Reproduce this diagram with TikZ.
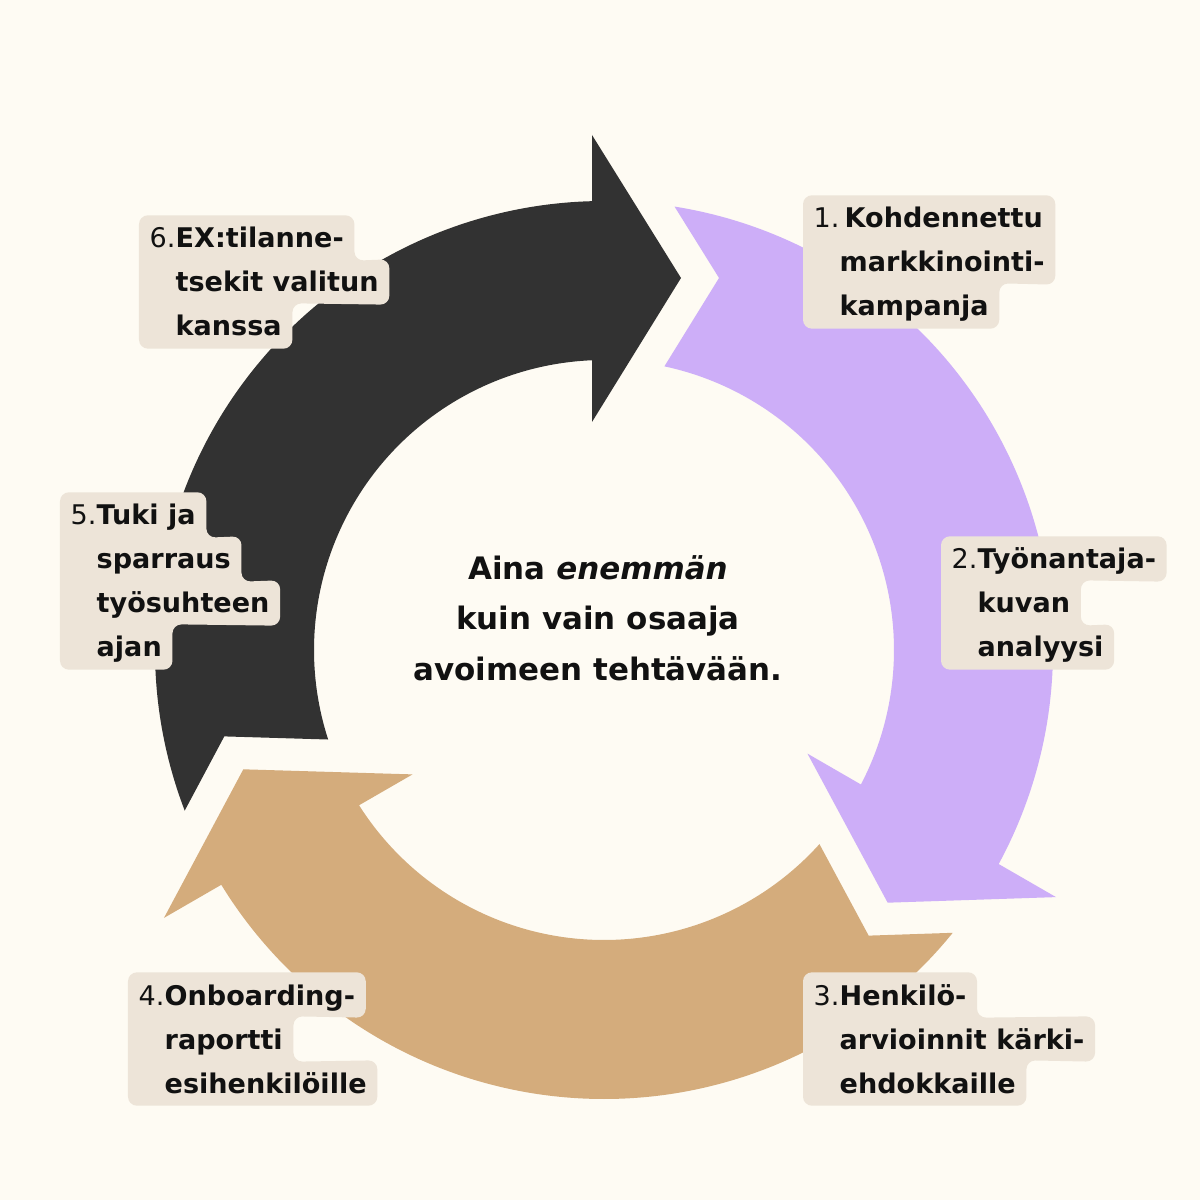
\documentclass[tikz,border=0pt]{standalone}
\usepackage{fontspec}
\setmainfont{DejaVu Sans}[ItalicFont={DejaVu Sans Oblique},BoldItalicFont={DejaVu Sans Bold Oblique}]
\usepackage{tikz}
\usetikzlibrary{positioning}
\definecolor{paper}{HTML}{FEFBF3}
\definecolor{boxbg}{HTML}{EDE4D8}
\definecolor{coal}{HTML}{323232}
\definecolor{lilac}{HTML}{CDAEF8}
\definecolor{sand}{HTML}{D4AC7C}
\definecolor{ink}{HTML}{111111}
\newcommand{\lblnum}[1]{\makebox[2.6mm][l]{\mdseries #1}}
\newcommand{\lblgap}{\hspace*{2.6mm}}
\pgfdeclarelayer{back}
\pgfdeclarelayer{mid}
\pgfsetlayers{back,mid,main}

\begin{document}
\begin{tikzpicture}[x=0.1mm,y=0.1mm,
  lbl/.style={anchor=west,inner xsep=1mm,inner ysep=0pt,
    minimum height=4.4mm,text height=2mm,text depth=0pt,text=ink,
    font=\fontsize{7.7pt}{12.5pt}\selectfont\bfseries},
  lblbox/.style={fill=boxbg,rounded corners=0.9mm}]
  \begin{pgfonlayer}{back}
  % canvas, origin at the ring centre
  \fill[paper] (-604,-550) rectangle (596,650);
  % ring arrows: one shape, turned by 120 degrees
  \foreach \ang/\col in {0/coal,-120/lilac,120/sand}{
    \begin{scope}[rotate=\ang]
      \fill[\col] (200.96:449) arc[start angle=200.96,end angle=91.53,radius=449]
        -- (-12,515) -- (77,372) -- (-12,228) -- (92.37:290)
        arc[start angle=92.37,end angle=197.98,radius=290]
        -- (-379.7,-86.4) -- cycle;
    \end{scope}
  }
  \end{pgfonlayer}
  % centre text
  \node[align=center,text=ink,font=\fontsize{8.8pt}{14.4pt}\selectfont\bfseries] (motto) at (-6,32)
    {Aina \textit{enemmän}\\ kuin vain osaaja\\ avoimeen tehtävään.};
  % step labels, one node per line
  \node[lbl] (l1a) at (199,432) {\lblnum{1.}\hspace{0.5mm}Kohdennettu};
  \node[lbl] (l1b) at (199,388) {\lblgap markkinointi-};
  \node[lbl] (l1c) at (199,344) {\lblgap kampanja};
  \node[lbl] (l2a) at (337,91) {\lblnum{2.}Työnantaja-};
  \node[lbl] (l2b) at (337,47) {\lblgap kuvan};
  \node[lbl] (l2c) at (337,3) {\lblgap analyysi};
  \node[lbl] (l3a) at (199,-345) {\lblnum{3.}Henkilö-};
  \node[lbl] (l3b) at (199,-389) {\lblgap arvioinnit kärki-};
  \node[lbl] (l3c) at (199,-433) {\lblgap ehdokkaille};
  \node[lbl] (l4a) at (-476,-345) {\lblnum{4.}Onboarding-};
  \node[lbl] (l4b) at (-476,-389) {\lblgap raportti};
  \node[lbl] (l4c) at (-476,-433) {\lblgap esihenkilöille};
  \node[lbl] (l5a) at (-544,135) {\lblnum{5.}Tuki ja};
  \node[lbl] (l5b) at (-544,91) {\lblgap sparraus};
  \node[lbl] (l5c) at (-544,47) {\lblgap työsuhteen};
  \node[lbl] (l5d) at (-544,3) {\lblgap ajan};
  \node[lbl] (l6a) at (-465,412) {\lblnum{6.}EX:tilanne-};
  \node[lbl] (l6b) at (-465,368) {\lblgap tsekit valitun};
  \node[lbl] (l6c) at (-465,324) {\lblgap kanssa};
  % label backgrounds, traced round the line nodes
  \begin{pgfonlayer}{mid}
  \fill[lblbox] (l1a.north west) -- (l1a.north -| l1b.east) -- (l1b.south east)
    -- (l1c.north east) -- (l1c.south east) -- (l1c.south west) -- cycle;
  \fill[lblbox] (l2a.north west) -- (l2a.north east) -- (l2a.south east)
    -- (l2b.north east) -- (l2b.south east) -- (l2c.north east)
    -- (l2c.south east) -- (l2c.south west) -- cycle;
  \fill[lblbox] (l3a.north west) -- (l3a.north east) -- (l3a.south east)
    -- (l3b.north east) -- (l3b.south east) -- (l3c.north east)
    -- (l3c.south east) -- (l3c.south west) -- cycle;
  \fill[lblbox] (l4a.north west) -- (l4a.north east) -- (l4a.south east)
    -- (l4b.north east) -- (l4b.south east) -- (l4c.north east)
    -- (l4c.south east) -- (l4c.south west) -- cycle;
  \fill[lblbox] (l5a.north west) -- (l5a.north east) -- (l5a.south east)
    -- (l5b.north east) -- (l5b.south east) -- (l5c.north east)
    -- (l5c.south east) -- (l5d.north east) -- (l5d.south east)
    -- (l5d.south west) -- cycle;
  \fill[lblbox] (l6a.north west) -- (l6a.north east) -- (l6a.south east)
    -- (l6b.north east) -- (l6b.south east) -- (l6c.north east)
    -- (l6c.south east) -- (l6c.south west) -- cycle;
  \end{pgfonlayer}
\end{tikzpicture}
\end{document}
